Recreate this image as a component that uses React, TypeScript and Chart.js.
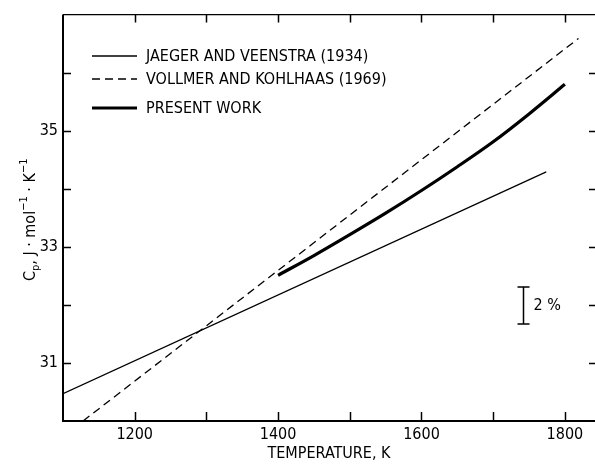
import React, { useEffect, useRef } from 'react';
import { Chart, registerables } from 'chart.js';
Chart.register(...registerables);

const JAEGER_T = [1100, 1774];
const JAEGER_CP = [30.47, 34.29];
const VOLLMER_T = [1128, 1819];
const VOLLMER_CP = [30.0, 36.59];
const PRESENT_T = [1400, 1450, 1500, 1550, 1600, 1650, 1700, 1750, 1800];
const PRESENT_CP = [32.51, 32.85, 33.21, 33.58, 33.97, 34.38, 34.81, 35.29, 35.8];
const LEGEND_LABELS = ['JAEGER AND VEENSTRA (1934)', 'VOLLMER AND KOHLHAAS (1969)', 'PRESENT WORK'];
const X_TICK_LABELS = [1200, 1400, 1600, 1800];
const X_TICK_MARKS = [1200, 1300, 1400, 1500, 1600, 1700, 1800];
const Y_TICK_LABELS = [31, 33, 35];
const Y_TICK_MARKS = [31, 32, 33, 34, 35, 36];
const SCALE_BAR_T = 1741;
const SCALE_BAR_CP = [31.67, 32.31];
const SCALE_BAR_LABEL = '2 %';
const X_TITLE = 'TEMPERATURE, K';

const FONT = '"Liberation Sans Narrow", "DejaVu Sans Condensed", "Roboto Condensed", sans-serif';

const decorPlugin = {
  id: 'decor',
  afterDraw(chart: any) {
    const ctx = chart.ctx;
    const { left, right, top, bottom } = chart.chartArea;
    const xs = chart.scales.x;
    const ys = chart.scales.y;
    ctx.save();
    ctx.strokeStyle = '#000';
    ctx.fillStyle = '#000';
    // axes
    ctx.lineWidth = 2;
    ctx.beginPath();
    ctx.moveTo(left, top);
    ctx.lineTo(left, bottom);
    ctx.lineTo(right, bottom);
    ctx.stroke();
    ctx.lineWidth = 1.2;
    ctx.beginPath();
    ctx.moveTo(left, top);
    ctx.lineTo(right, top);
    ctx.stroke();
    // ticks
    ctx.lineWidth = 1.5;
    for (const v of X_TICK_MARKS) {
      const px = Math.round(xs.getPixelForValue(v)) + 0.5;
      ctx.beginPath();
      ctx.moveTo(px, bottom);
      ctx.lineTo(px, bottom - 9);
      ctx.moveTo(px, top);
      ctx.lineTo(px, top + 8);
      ctx.stroke();
    }
    for (const v of Y_TICK_MARKS) {
      const py = Math.round(ys.getPixelForValue(v)) + 0.5;
      ctx.beginPath();
      ctx.moveTo(left, py);
      ctx.lineTo(left + 8, py);
      ctx.moveTo(right, py);
      ctx.lineTo(right - 6, py);
      ctx.stroke();
    }
    // legend
    const rows = [57, 80, 109];
    chart.data.datasets.forEach((ds: any, i: number) => {
      const y = rows[i];
      ctx.save();
      ctx.lineWidth = ds.borderWidth;
      ctx.setLineDash(ds.borderDash || []);
      ctx.beginPath();
      ctx.moveTo(92, y - 1);
      ctx.lineTo(137, y - 1);
      ctx.stroke();
      ctx.restore();
      ctx.font = '16px ' + FONT;
      ctx.textBaseline = 'middle';
      ctx.textAlign = 'left';
      ctx.fillText(LEGEND_LABELS[i], 146, y);
    });
    // scale bar
    const bx = Math.round(xs.getPixelForValue(SCALE_BAR_T)) + 0.5;
    const by0 = ys.getPixelForValue(SCALE_BAR_CP[0]);
    const by1 = ys.getPixelForValue(SCALE_BAR_CP[1]);
    ctx.lineWidth = 1.5;
    ctx.beginPath();
    ctx.moveTo(bx, by0);
    ctx.lineTo(bx, by1);
    ctx.moveTo(bx - 6, by0);
    ctx.lineTo(bx + 6, by0);
    ctx.moveTo(bx - 6, by1);
    ctx.lineTo(bx + 6, by1);
    ctx.stroke();
    ctx.font = '16px ' + FONT;
    ctx.textBaseline = 'middle';
    ctx.fillText(SCALE_BAR_LABEL, bx + 10, (by0 + by1) / 2);
    // x title
    ctx.textAlign = 'center';
    ctx.textBaseline = 'alphabetic';
    ctx.fillText(X_TITLE, (left + right) / 2, 458);
    // y title
    const parts: [string, number][] = [
      ['C', 0], ['p', 1], [', J \u00b7 mol', 0], ['\u22121', -1], [' \u00b7 K', 0], ['\u22121', -1],
    ];
    const fontFor = (k: number) => (k === 0 ? '16px ' : '11px ') + FONT;
    let w = 0;
    for (const [t, k] of parts) { ctx.font = fontFor(k); w += ctx.measureText(t).width; }
    ctx.save();
    ctx.translate(35, (top + bottom) / 2 + 2);
    ctx.rotate(-Math.PI / 2);
    ctx.textAlign = 'left';
    let x = -w / 2;
    for (const [t, k] of parts) {
      ctx.font = fontFor(k);
      const dy = k === 1 ? 4 : k === -1 ? -8 : 0;
      ctx.fillText(t, x, dy);
      x += ctx.measureText(t).width;
    }
    ctx.restore();
    ctx.restore();
  },
};

export default function App() {
  const ref = useRef<HTMLCanvasElement>(null);
  useEffect(() => {
    document.body.style.margin = '0';
    const toPts = (xs: number[], ys: number[]) => xs.map((x, i) => ({ x, y: ys[i] }));
    const chart = new Chart(ref.current!, {
      type: 'line',
      data: {
        datasets: [
          { data: toPts(JAEGER_T, JAEGER_CP), borderColor: '#000', borderWidth: 1.3, pointRadius: 0, fill: false },
          { data: toPts(VOLLMER_T, VOLLMER_CP), borderColor: '#000', borderWidth: 1.3, borderDash: [8, 5], pointRadius: 0, fill: false },
          { data: toPts(PRESENT_T, PRESENT_CP), borderColor: '#000', borderWidth: 3.2, pointRadius: 0, fill: false, tension: 0.4, cubicInterpolationMode: 'monotone' },
        ],
      },
      options: {
        animation: false,
        responsive: false,
        devicePixelRatio: 1,
        layout: { padding: { top: 8, left: 0, right: 0, bottom: 0 } },
        plugins: { legend: { display: false }, tooltip: { enabled: false } },
        scales: {
          x: {
            type: 'linear', min: 1100, max: 1842,
            grid: { display: false, drawTicks: false }, border: { display: false },
            afterBuildTicks: (s: any) => { s.ticks = X_TICK_LABELS.map((v) => ({ value: v })); },
            afterFit: (s: any) => { s.height = 44; },
            ticks: { color: '#000', padding: 4, maxRotation: 0, font: { family: FONT, size: 16 }, callback: (v: any) => String(v) },
          },
          y: {
            type: 'linear', min: 30, max: 37,
            grid: { display: false, drawTicks: false }, border: { display: false },
            afterBuildTicks: (s: any) => { s.ticks = Y_TICK_LABELS.map((v) => ({ value: v })); },
            afterFit: (s: any) => { s.width = 63; },
            ticks: { color: '#000', padding: 5, font: { family: FONT, size: 16 }, callback: (v: any) => String(v) },
          },
        },
      },
      plugins: [decorPlugin],
    } as any);
    return () => chart.destroy();
  }, []);
  return (
    <div style={{ width: 595, height: 465, background: '#fff' }}>
      <canvas ref={ref} width={595} height={465} style={{ display: 'block' }} />
    </div>
  );
}
